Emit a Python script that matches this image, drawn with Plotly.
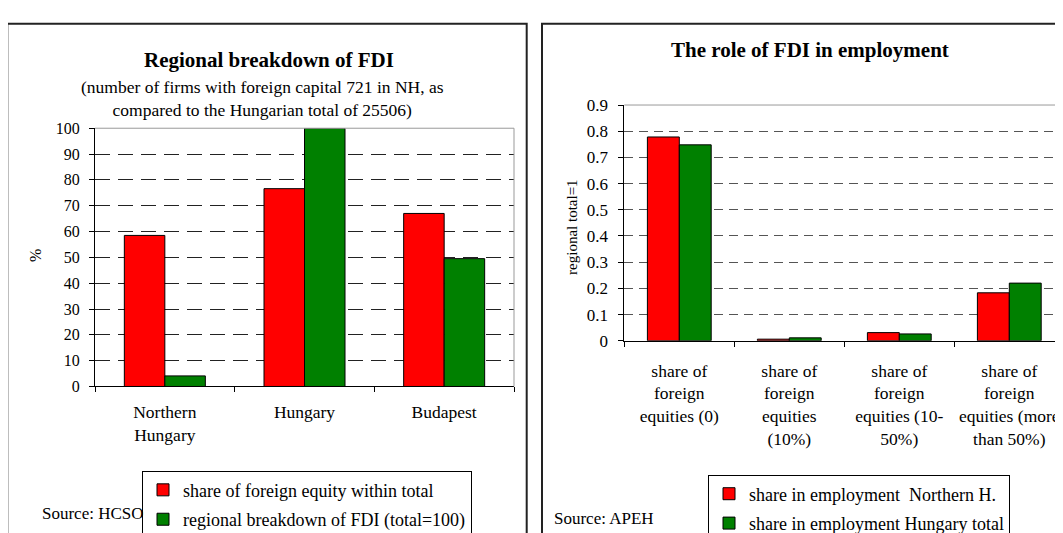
import plotly.graph_objects as go

# ---- data: left panel ----
regions = ["Northern<br>Hungary", "Hungary", "Budapest"]
share_foreign_equity = [58.5, 76.6, 67.0]
regional_breakdown_fdi = [4.1, 100.0, 49.5]
left_y_ticks = [0, 10, 20, 30, 40, 50, 60, 70, 80, 90, 100]

# ---- data: right panel ----
equity_groups = [
    "share of<br>foreign<br>equities (0)",
    "share of<br>foreign<br>equities<br>(10%)",
    "share of<br>foreign<br>equities (10-<br>50%)",
    "share of<br>foreign<br>equities (more<br>than 50%)",
]
employment_northern = [0.778, 0.006, 0.031, 0.183]
employment_hungary = [0.748, 0.011, 0.026, 0.220]
right_y_ticks = [0, 0.1, 0.2, 0.3, 0.4, 0.5, 0.6, 0.7, 0.8, 0.9]

# figure is a bit taller than the window so that frames/legends run off the bottom
W, H = 1063, 580
OFF = 8  # page body margin
FONT = "Liberation Serif"
RED = "#FF0000"
GREEN = "#008000"


def px(x):
    return (x - OFF) / W


def py(y):
    return 1 - (y - OFF) / H


fig = go.Figure()

fig.add_trace(go.Bar(
    x=regions, y=share_foreign_equity, name="share of foreign equity within total",
    marker=dict(color=RED, line=dict(color="black", width=1)),
    xaxis="x", yaxis="y", legend="legend", legendgroup="a",
))
fig.add_trace(go.Bar(
    x=regions, y=regional_breakdown_fdi, name="regional breakdown of FDI (total=100)",
    marker=dict(color=GREEN, line=dict(color="black", width=1)),
    xaxis="x", yaxis="y", legend="legend", legendgroup="b",
))
fig.add_trace(go.Bar(
    x=equity_groups, y=employment_northern, name="share in employment  Northern H.",
    marker=dict(color=RED, line=dict(color="black", width=1)),
    xaxis="x2", yaxis="y2", legend="legend2", legendgroup="c",
))
fig.add_trace(go.Bar(
    x=equity_groups, y=employment_hungary, name="share in employment Hungary total",
    marker=dict(color=GREEN, line=dict(color="black", width=1)),
    xaxis="x2", yaxis="y2", legend="legend2", legendgroup="d",
))

common_x = dict(
    type="category", showline=True, linecolor="black", linewidth=1,
    ticks="outside", tickson="boundaries", ticklen=5, tickcolor="black",
    showgrid=False, zeroline=False, tickfont=dict(size=17.5, family=FONT, color="black"),
    fixedrange=True,
)
common_y = dict(
    showline=True, linecolor="black", linewidth=1, ticks="outside", ticklen=5,
    tickcolor="black", showgrid=True, gridwidth=1, zeroline=False,
    fixedrange=True,
)

fig.update_layout(
    width=W, height=H,
    margin=dict(l=0, r=0, t=0, b=0),
    paper_bgcolor="white", plot_bgcolor="white",
    font=dict(family=FONT, color="black", size=17),
    barmode="group", bargap=0.42, bargroupgap=0,
    xaxis=dict(common_x, domain=[px(95), px(514)], range=[-0.5, 2.5],
               ticklabelstandoff=10, anchor="y"),
    yaxis=dict(common_y, domain=[py(390), py(123)], range=[0, 100],
               tickvals=left_y_ticks, gridcolor="#222", griddash="15px,8px",
               ticklabelstandoff=6,
               tickfont=dict(size=16, family=FONT, color="black"), anchor="x"),
    xaxis2=dict(common_x, domain=[px(624.3), px(1064.3)], range=[-0.5, 3.5],
                ticklabelstandoff=14, anchor="y2"),
    yaxis2=dict(common_y, domain=[py(342.7), py(99)], range=[0, 0.9],
                tickvals=right_y_ticks, gridcolor="#555", griddash="9px,6px",
                ticklabelstandoff=7,
                tickfont=dict(size=17, family=FONT, color="black"), anchor="x2"),
    showlegend=True,
    legend=dict(x=px(142), y=py(477), xanchor="left", yanchor="top",
                bordercolor="black", borderwidth=1, bgcolor="white",
                font=dict(size=18, family=FONT), itemwidth=30,
                traceorder="grouped", tracegroupgap=3),
    legend2=dict(x=px(708), y=py(481), xanchor="left", yanchor="top",
                 bordercolor="black", borderwidth=1, bgcolor="white",
                 font=dict(size=18, family=FONT), itemwidth=30,
                 traceorder="grouped", tracegroupgap=3),
)

shapes = [
    # panel frames
    dict(type="rect", xref="paper", yref="paper", x0=px(7.3), x1=px(526.7),
         y0=-0.1, y1=py(15), line=dict(color="#222", width=2), layer="below"),
    dict(type="rect", xref="paper", yref="paper", x0=px(542), x1=1.1,
         y0=-0.1, y1=py(15), line=dict(color="#222", width=2), layer="below"),
    # grey plot-area borders (top / right)
    dict(type="line", xref="x domain", yref="y domain", x0=0, x1=1, y0=1, y1=1,
         line=dict(color="#999", width=1), layer="above"),
    dict(type="line", xref="x domain", yref="y domain", x0=1, x1=1, y0=0, y1=1,
         line=dict(color="#999", width=1), layer="above"),
    dict(type="line", xref="x2 domain", yref="y2 domain", x0=0, x1=1, y0=1, y1=1,
         line=dict(color="#999", width=1), layer="above"),
]
fig.update_layout(shapes=shapes)

annotations = [
    dict(text="<b>Regional breakdown of FDI</b>", x=px(269), y=py(52),
         font=dict(size=21)),
    dict(text="(number of firms with foreign capital 721 in NH, as<br>compared to the Hungarian total of 25506)",
         x=px(262), y=py(92), font=dict(size=17.5)),
    dict(text="<b>The role of FDI in employment</b>", x=px(810), y=py(42),
         font=dict(size=21)),
    dict(text="%", x=px(36), y=py(255), textangle=-90, font=dict(size=16)),
    dict(text="regional total=1", x=px(572), y=py(225), textangle=-90,
         font=dict(size=15)),
    dict(text="Source: HCSO", x=px(40), y=py(521), xanchor="left", font=dict(size=17)),
    dict(text="Source: APEH", x=px(552), y=py(527), xanchor="left", font=dict(size=17)),
]
for a in annotations:
    a.setdefault("xanchor", "center")
    a.update(xref="paper", yref="paper", yanchor="middle", showarrow=False)
fig.update_layout(annotations=annotations)

fig.write_html("out.html")
